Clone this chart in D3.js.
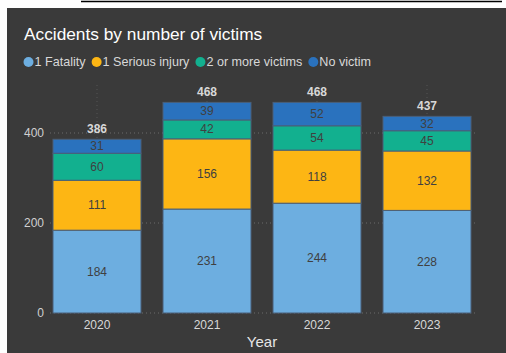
<!DOCTYPE html>
<html>
<head>
<meta charset="utf-8">
<script src="https://cdn.jsdelivr.net/npm/d3@7"></script>
<style>
  body { margin: 0; background: #fff; }
  svg text { font-family: "Liberation Sans", Arial, sans-serif; }
</style>
</head>
<body>
<svg id="chart"></svg>
<script>
// data
const years = ['2020', '2021', '2022', '2023'];
const fatality = [184, 231, 244, 228];
const seriousInjury = [111, 156, 118, 132];
const multiVictims = [60, 42, 54, 45];
const noVictim = [31, 39, 52, 32];
const seriesNames = ['1 Fatality', '1 Serious injury', '2 or more victims', 'No victim'];
const seriesColors = ['#6daee0', '#fdb614', '#12b08f', '#2a72be'];
const yTicks = [0, 200, 400];

const width = 506, height = 353;

const svg = d3.select('#chart')
    .attr('width', width)
    .attr('height', height);

// page strip above the card
svg.append('line')
    .attr('x1', 81).attr('x2', 502)
    .attr('y1', 1.5).attr('y2', 1.5)
    .attr('stroke', '#000')
    .attr('stroke-width', 1.5);

svg.append('rect')
    .attr('x', 7).attr('y', 8)
    .attr('width', width - 7).attr('height', height - 8)
    .attr('fill', '#3a3a3a');

svg.append('text')
    .attr('x', 24).attr('y', 40)
    .attr('fill', '#ffffff')
    .attr('font-size', 17.3)
    .text('Accidents by number of victims');

// legend
let lx = 23;
const legend = svg.append('g');
seriesNames.forEach((name, i) => {
    legend.append('circle')
        .attr('cx', lx + 5.5).attr('cy', 62)
        .attr('r', 5)
        .attr('fill', seriesColors[i]);
    const t = legend.append('text')
        .attr('x', lx + 11.5).attr('y', 66)
        .attr('fill', '#d8d8d8')
        .attr('font-size', 12.6)
        .text(name);
    lx += 11.5 + t.node().getComputedTextLength() + 5.5;
});

// stack the series
const rows = years.map((y, i) => ({
    year: y,
    s0: fatality[i], s1: seriousInjury[i], s2: multiVictims[i], s3: noVictim[i]
}));
const keys = ['s0', 's1', 's2', 's3'];
const stacked = d3.stack().keys(keys)(rows);
const totals = rows.map(r => d3.sum(keys, k => r[k]));

const xScale = d3.scaleBand()
    .domain(years)
    .range([42, 482])
    .paddingInner(0.2)
    .paddingOuter(0.1);

const yScale = d3.scaleLinear()
    .domain([0, 400])
    .range([313, 133]);

// dotted gridlines
svg.append('g')
    .selectAll('line')
    .data(yTicks)
    .join('line')
    .attr('x1', 50).attr('x2', 478)
    .attr('y1', d => yScale(d)).attr('y2', d => yScale(d))
    .attr('stroke', '#6a6a6a')
    .attr('stroke-dasharray', '1,3');

// faint dotted guides above bars
svg.append('g')
    .selectAll('line')
    .data(rows)
    .join('line')
    .attr('x1', d => xScale(d.year) + xScale.bandwidth() / 2)
    .attr('x2', d => xScale(d.year) + xScale.bandwidth() / 2)
    .attr('y1', 85)
    .attr('y2', (d, i) => yScale(totals[i]))
    .attr('stroke', '#555555')
    .attr('stroke-dasharray', '1,3');

const yAxis = d3.axisLeft(yScale).tickValues(yTicks).tickSize(0).tickPadding(0);
const yAxisGroup = svg.append('g')
    .attr('transform', 'translate(44,0)')
    .call(yAxis);
yAxisGroup.select('.domain').remove();
yAxisGroup.selectAll('text')
    .attr('fill', '#d0d0d0')
    .attr('font-size', 12);

const xAxis = d3.axisBottom(xScale).tickSize(0).tickPadding(6);
const xAxisGroup = svg.append('g')
    .attr('transform', 'translate(0,314)')
    .call(xAxis);
xAxisGroup.select('.domain').remove();
xAxisGroup.selectAll('text')
    .attr('fill', '#d8d8d8')
    .attr('font-size', 12);

svg.append('text')
    .attr('x', 262).attr('y', 347)
    .attr('text-anchor', 'middle')
    .attr('fill', '#e6e6e6')
    .attr('font-size', 15)
    .text('Year');

// bars
const layers = svg.append('g')
    .selectAll('g')
    .data(stacked)
    .join('g')
    .attr('fill', (d, i) => seriesColors[i]);

layers.selectAll('rect')
    .data(d => d)
    .join('rect')
    .attr('x', d => xScale(d.data.year))
    .attr('y', d => yScale(d[1]))
    .attr('width', xScale.bandwidth())
    .attr('height', d => yScale(d[0]) - yScale(d[1]))
    .attr('stroke', '#4a5f78')
    .attr('stroke-width', 1);

// segment labels
layers.selectAll('text')
    .data(d => d)
    .join('text')
    .attr('x', d => xScale(d.data.year) + xScale.bandwidth() / 2)
    .attr('y', d => (yScale(d[0]) + yScale(d[1])) / 2 + 4)
    .attr('text-anchor', 'middle')
    .attr('fill', '#404040')
    .attr('font-size', 12)
    .text(d => d[1] - d[0]);

// totals
svg.append('g')
    .selectAll('text')
    .data(rows)
    .join('text')
    .attr('x', d => xScale(d.year) + xScale.bandwidth() / 2)
    .attr('y', (d, i) => yScale(totals[i]) - 6)
    .attr('text-anchor', 'middle')
    .attr('fill', '#d8d8d8')
    .attr('font-size', 12)
    .attr('font-weight', 'bold')
    .text((d, i) => totals[i]);
</script>
</body>
</html>
